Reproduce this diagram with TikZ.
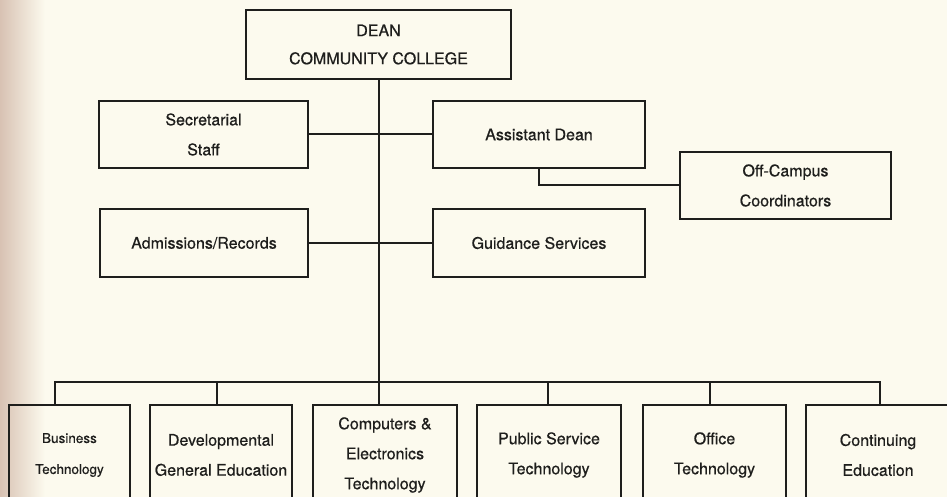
\documentclass[tikz,border=0pt]{standalone}
\usepackage{fontspec}
\setmainfont{TeX Gyre Heros}[FakeBold=0.6]
\usetikzlibrary{positioning}
\definecolor{paper}{HTML}{FCFAEE}
\definecolor{scanedge}{HTML}{D8C2B3}
\definecolor{ink}{HTML}{1E1E1C}
\tikzset{
  unit/.style={draw=ink, text=ink, line width=2pt, inner sep=0pt, align=center, font=\fontsize{16}{30}\selectfont},
  wire/.style={draw=ink, line width=2pt, line join=miter},
}
\begin{document}
\begin{tikzpicture}[x=1pt,y=-1pt]
\useasboundingbox (0,0) rectangle (947,497);
\clip (0,0) rectangle (947,497);
\fill[paper] (0,0) rectangle (947,497);
\shade[left color=scanedge, right color=paper] (0,0) rectangle (45,497);

\node[unit, minimum width=265, minimum height=69] (dean) at (378.5,44.5) {DEAN\\[-2pt]COMMUNITY COLLEGE};

\node[unit, minimum width=209, minimum height=67] (sec) at (203.5,134.5) {Secretarial\\Staff};
\node[unit, minimum width=212, minimum height=67] (asst) at (539,134.5) {Assistant Dean};
\node[unit, minimum width=211, minimum height=67] (off) at (785.5,185.5) {Off-Campus\\Coordinators};
\node[unit, minimum width=208, minimum height=68] (adm) at (204,243) {Admissions/Records};
\node[unit, minimum width=212, minimum height=68] (guid) at (539,243) {Guidance Services};

\node[unit, minimum width=121, minimum height=100, font=\fontsize{13.5}{31}\selectfont] (b1) at (69.5,455) {Business\\Technology};
\node[unit, minimum width=142, minimum height=100] (b2) at (221,455) {Developmental\\General Education};
\node[unit, minimum width=144, minimum height=100] (b3) at (385,455) {Computers \&\\Electronics\\Technology};
\node[unit, minimum width=144, minimum height=100] (b4) at (549,455) {Public Service\\Technology};
\node[unit, minimum width=143, minimum height=100] (b5) at (714.5,455) {Office\\Technology};
\node[unit, minimum width=144, minimum height=100] (b6) at (878,455) {Continuing\\Education};

\coordinate (j1) at (55,382);
\coordinate (j2) at (217,382);
\coordinate (j4) at (548,382);
\coordinate (j5) at (710,382);
\coordinate (j6) at (880,382);

\draw[wire] (dean.south) -- (dean.south |- b3.north);
\draw[wire] (sec.east) -- (asst.west);
\draw[wire] (adm.east) -- (guid.west);
\draw[wire] (asst.south) |- (off.west);

\draw[wire] (b1.north -| j1) |- (j6) -- (b6.north -| j6);
\draw[wire] (j2) -- (b2.north -| j2);
\draw[wire] (j4) -- (b4.north -| j4);
\draw[wire] (j5) -- (b5.north -| j5);
\end{tikzpicture}
\end{document}
